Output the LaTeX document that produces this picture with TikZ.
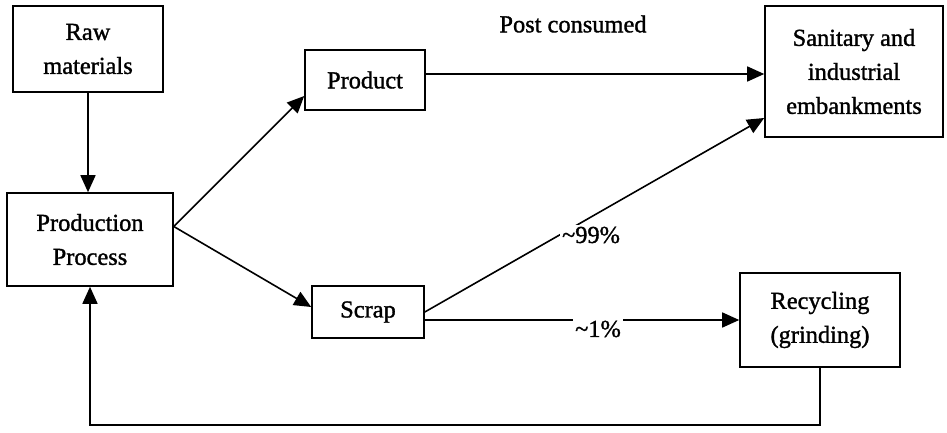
\documentclass[tikz,border=0pt]{standalone}
\usepackage{fontspec}
\setmainfont{Liberation Serif}
\newfontfamily\medfont{Liberation Serif}[FakeBold=1.3]
\usetikzlibrary{arrows.meta,calc}
\begin{document}
\begin{tikzpicture}[x=1pt,y=-1pt,
  txt/.style={font=\medfont\fontsize{24.4}{34}\selectfont},
  box/.style={draw,line width=1.6pt,rectangle,inner sep=0pt,align=center,txt},
  arr/.style={line width=1.6pt,-{Triangle[length=17pt,width=15pt]}},
  lbl/.style={txt,inner sep=1pt},
  wlbl/.style={lbl,fill=white,inner sep=2pt}]
\useasboundingbox (0,0) rectangle (947,433);
\node[box,minimum width=150pt,minimum height=86pt] (raw) at (88,49) {Raw\\materials};
\node[box,minimum width=166pt,minimum height=93pt] (prod) at (90,239.5) {Production\\Process};
\node[box,minimum width=120pt,minimum height=60pt] (product) at (365,80) {Product};
\node[box,minimum width=112pt,minimum height=52pt] (scrap) at (368,312) {Scrap};
\node[box,minimum width=178pt,minimum height=131pt] (san) at (854,71.5) {Sanitary and\\industrial\\embankments};
\node[box,minimum width=160pt,minimum height=94pt] (rec) at (820,320) {Recycling\\(grinding)};
% connectors
\draw[arr] (raw.south) -- (raw.south |- prod.north);
\coordinate (pout) at ([yshift=13pt]prod.east);
\draw[arr] (pout) -- ([yshift=-16pt]product.west);
\draw[arr] (pout) -- ([yshift=5pt]scrap.west);
\coordinate (p1) at ([yshift=6pt]product.east);
\draw[arr] (p1) -- (p1 -| san.west);
\node[lbl] (post) at (573,24) {Post consumed};
\draw[arr] (scrap.east) -- ([yshift=-46.5pt]san.west);
\node[wlbl] (l99) at (591,235) {\textasciitilde99\%};
\coordinate (s2) at ([yshift=-8pt]scrap.east);
\draw[arr] (s2) -- (s2 -| rec.west);
\node[wlbl] (l1) at (598,329) {\textasciitilde1\%};
\draw[arr] (rec.south) -- ++(0,57) -| (prod.south);
\end{tikzpicture}
\end{document}
